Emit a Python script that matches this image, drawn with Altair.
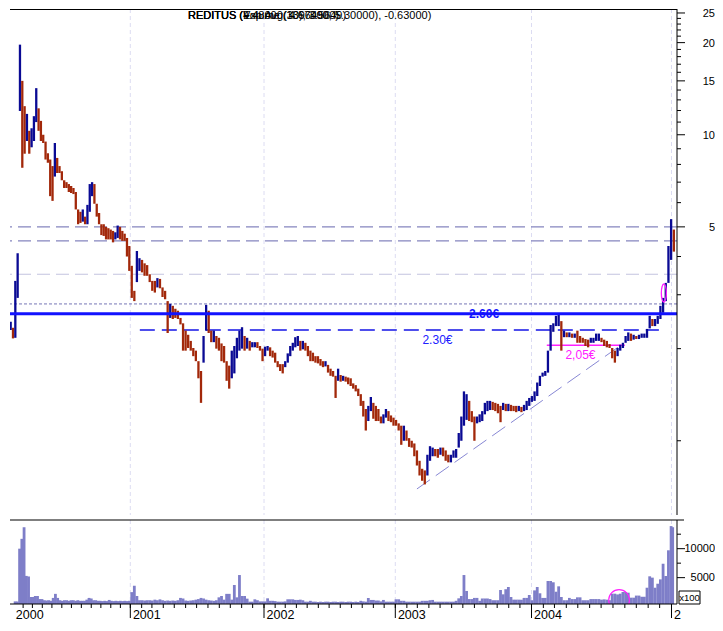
import altair as alt
import pandas as pd

# ---------------- data ----------------
# weekly price range (low / high, EUR) - one value per Friday
low_2000 = [2.30, 2.16, 2.17, 2.93, 11.96, 7.8, 8.67, 9.54, 8.67, 9.1, 9.54, 11.0, 10.3,
            9.54, 9.4, 8.3, 8.1, 6.3, 6.08, 7.3, 7.5, 7.5, 7.1, 6.7, 6.7, 6.5,
            6.45, 6.4, 5.7, 5.1, 5.15, 5.2, 5.1, 5.1, 5.6, 6.3, 5.95, 5.4, 5.1,
            4.7, 4.67, 4.55, 4.55, 4.55, 4.45, 4.55, 4.6, 4.55, 4.5, 4.5, 4.0, 3.59]
high_2000 = [2.45, 2.34, 3.33, 4.10, 19.7, 15.0, 12.4, 11.7, 10.3, 10.5, 11.5, 14.2, 12.2,
             11.1, 10.0, 9.5, 8.7, 8.3, 7.9, 9.4, 8.4, 7.9, 7.6, 7.1, 7.0, 6.9,
             6.8, 6.7, 6.5, 5.7, 5.6, 5.7, 5.4, 5.9, 6.9, 7.0, 6.9, 5.95, 5.55,
             5.1, 5.1, 5.0, 4.95, 4.9, 4.85, 4.8, 5.05, 5.0, 4.85, 4.75, 4.6, 4.33]
low_2001 = [2.93, 2.86, 3.3, 3.59, 3.55, 3.46, 3.46, 3.3, 3.09, 3.05, 3.17, 3.15, 2.95,
            2.9, 2.25, 2.52, 2.5, 2.52, 2.5, 2.4, 1.97, 1.97, 2.01, 1.97, 1.89, 1.82,
            1.6, 1.33, 1.8, 2.29, 2.25, 2.1, 2.1, 2.0, 1.97, 1.82, 1.8, 1.57, 1.48,
            1.6, 1.66, 1.86, 1.97, 2.0, 1.97, 2.0, 1.97, 2.02, 2.02, 2.01, 1.97, 1.82]
high_2001 = [3.73, 3.09, 4.17, 3.95, 3.9, 3.8, 3.75, 3.5, 3.33, 3.33, 3.4, 3.38, 3.17,
             3.09, 2.86, 2.8, 2.76, 2.7, 2.66, 2.52, 2.42, 2.29, 2.22, 2.12, 2.01, 1.97,
             1.82, 1.69, 2.2, 2.78, 2.66, 2.29, 2.29, 2.2, 2.17, 2.08, 2.04, 1.82, 1.76,
             1.97, 2.04, 2.17, 2.29, 2.35, 2.2, 2.17, 2.12, 2.1, 2.1, 2.1, 2.04, 2.0]
low_2002 = [1.89, 1.97, 1.89, 1.87, 1.8, 1.74, 1.69, 1.66, 1.74, 1.8, 1.89, 1.97, 2.02,
            2.04, 1.97, 1.99, 1.97, 1.89, 1.82, 1.82, 1.8, 1.79, 1.76, 1.74, 1.75, 1.67,
            1.63, 1.62, 1.38, 1.57, 1.56, 1.57, 1.56, 1.53, 1.51, 1.48, 1.45, 1.4, 1.3,
            1.2, 1.08, 1.16, 1.25, 1.18, 1.16, 1.16, 1.14, 1.14, 1.19, 1.16, 1.15, 1.12]
high_2002 = [2.03, 2.04, 2.02, 1.97, 1.94, 1.82, 1.78, 1.78, 1.82, 1.93, 2.04, 2.09, 2.18,
             2.2, 2.12, 2.12, 2.09, 2.04, 1.97, 1.94, 1.89, 1.89, 1.85, 1.82, 1.82, 1.77,
             1.72, 1.69, 1.63, 1.72, 1.64, 1.63, 1.62, 1.61, 1.6, 1.54, 1.52, 1.48, 1.42,
             1.35, 1.27, 1.3, 1.39, 1.33, 1.3, 1.27, 1.2, 1.22, 1.27, 1.25, 1.21, 1.19]
low_2003 = [1.12, 1.08, 0.97, 1.0, 1.0, 0.955, 0.95, 0.89, 0.83, 0.77, 0.74, 0.72, 0.77,
            0.86, 0.89, 0.89, 0.88, 0.9, 0.89, 0.86, 0.85, 0.85, 0.88, 0.88, 0.95, 1.0,
            1.12, 1.17, 1.16, 1.15, 1.0, 1.14, 1.15, 1.16, 1.22, 1.25, 1.26, 1.26, 1.25,
            1.23, 1.15, 1.26, 1.25, 1.25, 1.25, 1.25, 1.24, 1.25, 1.24, 1.25, 1.26, 1.3]
high_2003 = [1.17, 1.14, 1.12, 1.12, 1.08, 1.02, 1.0, 0.98, 0.93, 0.86, 0.81, 0.8, 0.9,
             0.96, 0.95, 0.94, 0.94, 0.95, 0.95, 0.93, 0.9, 0.9, 0.93, 0.94, 1.06, 1.2,
             1.45, 1.42, 1.35, 1.25, 1.2, 1.2, 1.22, 1.25, 1.33, 1.35, 1.35, 1.34, 1.33,
             1.32, 1.3, 1.33, 1.32, 1.32, 1.31, 1.3, 1.3, 1.3, 1.29, 1.31, 1.35, 1.38]
low_2004 = [1.34, 1.35, 1.4, 1.51, 1.62, 1.63, 1.67, 1.97, 2.27, 2.37, 2.37, 1.97, 2.18,
            2.18, 2.18, 2.17, 2.17, 2.09, 2.09, 2.09, 2.04, 2.02, 2.09, 2.09, 2.12, 2.12,
            2.1, 2.04, 2.02, 2.01, 1.86, 1.8, 1.89, 1.97, 2.01, 2.09, 2.12, 2.12, 2.14,
            2.15, 2.15, 2.17, 2.17, 2.17, 2.33, 2.37, 2.37, 2.41, 2.5, 2.62, 2.86, 3.28, 3.9]
high_2004 = [1.4, 1.45, 1.55, 1.63, 1.67, 1.69, 1.97, 2.39, 2.42, 2.56, 2.58, 2.46, 2.29,
             2.26, 2.26, 2.24, 2.24, 2.29, 2.2, 2.17, 2.15, 2.14, 2.17, 2.17, 2.24, 2.24,
             2.17, 2.14, 2.12, 2.07, 2.01, 1.97, 2.01, 2.06, 2.09, 2.2, 2.26, 2.24, 2.22,
             2.2, 2.22, 2.24, 2.24, 2.32, 2.56, 2.5, 2.5, 2.56, 2.76, 2.93, 3.28, 4.33, 5.3]
low_2005 = [4.15]
high_2005 = [4.9]

# weekly volume (x100)
vol_2000 = [900, 900, 10000, 11700, 13700, 5300, 5200, 1660, 1660, 1830, 1830, 1300, 1300,
            1100, 1050, 1100, 1000, 1500, 2200, 1500, 1100, 1000, 1100, 1100, 1000, 1100,
            1100, 1000, 1100, 1000, 1000, 1000, 1200, 1500, 1400, 1100, 1100, 1000, 1000,
            950, 1000, 950, 1150, 1000, 950, 1000, 950, 1000, 950, 1000, 950, 1000]
vol_2001 = [2500, 3600, 1830, 1100, 1100, 1050, 1100, 1100, 1050, 1200, 1100, 1250, 1100,
            1000, 1050, 1000, 1050, 1000, 1100, 1500, 1400, 1050, 1000, 1050, 1100, 1200,
            1300, 1500, 1400, 1200, 1100, 1050, 1000, 1100, 1600, 1830, 1200, 2200, 2200,
            1200, 3730, 1600, 5450, 1830, 1830, 1370, 850, 850, 1260, 1100, 900, 900]
vol_2002 = [900, 1430, 1000, 1000, 950, 850, 850, 850, 900, 1260, 1260, 1260, 1150,
            1150, 1200, 1100, 850, 850, 1000, 850, 850, 800, 850, 800, 850, 850,
            800, 850, 850, 800, 850, 850, 800, 850, 850, 800, 850, 800, 1000,
            900, 850, 1486, 1150, 1150, 1050, 1050, 900, 1150, 850, 850, 850, 850]
vol_2003 = [1260, 1260, 1000, 1000, 850, 850, 850, 850, 850, 850, 1000, 1000, 1000,
            1100, 1150, 850, 850, 850, 850, 850, 850, 850, 850, 1000, 1430, 1830,
            5450, 2700, 1300, 1300, 1500, 1500, 1000, 1400, 1400, 1400, 1300, 1100, 1100,
            1100, 2870, 2120, 3000, 3380, 1660, 1200, 1200, 1200, 1200, 1500, 1500, 2000]
vol_2004 = [1100, 2800, 3380, 2300, 1500, 1500, 4420, 4420, 4200, 2570, 3500, 1660, 1100,
            1100, 1500, 1300, 1300, 1600, 1600, 1100, 1100, 1100, 1300, 1300, 1300, 1300,
            1200, 1250, 1200, 1100, 2230, 2230, 2100, 2230, 2520, 2520, 2400, 1540, 1540,
            1900, 1900, 1700, 1700, 3260, 5230, 5000, 3260, 3950, 4700, 7400, 5280, 9720, 13900]
vol_2005 = [13700]

# reference lines and annotations
dashed_levels = [5.0, 4.5]
light_levels = [3.5]
dotted_levels = [2.8]
resistance_level = [2.6]
support_line = {"x1": ["2001-01-27"], "x2": ["2004-11-29"], "v": [2.30]}
magenta_line = {"x1": ["2004-02-10"], "x2": ["2004-09-01"], "v": [2.05]}
trend_line = {"x1": ["2003-02-28"], "x2": ["2004-08-30"], "v1": [0.696], "v2": [2.087]}
label_260 = {"d": ["2003-08-27"], "v": [2.6], "t": ["2.60€"]}
label_230 = {"d": ["2003-04-24"], "v": [2.135], "t": ["2.30€"]}
label_205 = {"d": ["2004-05-08"], "v": [1.907], "t": ["2,05€"]}
ellipse_pt = {"d": ["2004-12-12"], "v": [3.04]}
vol_circle = {"d": ["2004-08-17"], "v": [1140]}
title_texts = ["REDITUS (4.48000, 4.67000, 5.30000), -0.63000)",
               "REDITUS (Exp Avg(30), 3.5649)",
               "REDITUS (Volume (13964900)"]
year_ticks = ["2001-01-01", "2002-01-01", "2003-01-01", "2004-01-01", "2005-01-01"]
year_labels = ["2000", "2001", "2002", "2003", "2004", "2"]
year_label_dates = ["2000-01-01"] + year_ticks
month_ticks = [f"{y}-{m:02d}-01" for y in range(2000, 2005) for m in range(1, 13)][1:] + ["2005-01-01"]
price_ticks = [5, 10, 15, 20, 25]
price_minor = [1, 2, 3, 4, 6, 7, 8, 9, 11, 12, 13, 14, 16, 17, 18, 19, 21, 22, 23, 24]
vol_ticks = [5000, 10000]
vol_minor = [7500, 12500]

# calendar anchors of the time axis (year starts are unevenly spaced in the source chart)
axis_dates = ["2000-01-05", "2001-01-01", "2002-01-01", "2003-01-01", "2004-01-01", "2005-01-01", "2005-01-15"]
axis_px = [0, 120.3, 254, 385.3, 521.5, 661.5, 667]

ORIGIN = pd.Timestamp("2000-01-01")


def day(s):
    return (pd.Timestamp(s) - ORIGIN).days


def dd(lst):
    return [day(s) for s in lst]


# ---------------- build table ----------------
def fridays(year, end=None):
    return list(pd.date_range(f"{year}-01-01", end or f"{year}-12-31", freq="W-FRI"))


blocks = [
    (fridays(2000), low_2000, high_2000, vol_2000),
    (fridays(2001), low_2001, high_2001, vol_2001),
    (fridays(2002), low_2002, high_2002, vol_2002),
    (fridays(2003), low_2003, high_2003, vol_2003),
    (fridays(2004), low_2004, high_2004, vol_2004),
    (fridays(2005, "2005-01-07"), low_2005, high_2005, vol_2005),
]
rows = []
for dates, lo, hi, vo in blocks:
    assert len(dates) == len(lo) == len(hi) == len(vo), (len(dates), len(lo), len(hi), len(vo))
    for d, a, b, v in zip(dates, lo, hi, vo):
        rows.append({"day": (d - ORIGIN).days, "low": a, "high": b, "vol": v})
df = pd.DataFrame(rows)
mid = (df["low"] * df["high"]) ** 0.5
df["dir"] = ["up"] + ["up" if mid[i] >= mid[i - 1] else "down" for i in range(1, len(df))]

BLUE = "#0a0a94"
RED = "#a2280a"
VOL = "#7e7ec8"
MAG = "#ff20ff"
GRID = "#dcdcf2"
FONT = "Liberation Sans"

W = 667
HP = 506
HV = 84

xscale = alt.Scale(domain=[day(s) for s in axis_dates], range=axis_px, nice=False, zero=False)
yscale_p = alt.Scale(type="log", domain=[0.572, 25.76], nice=False)
yscale_v = alt.Scale(domain=[450, 14950], nice=False, zero=False)


def X(field):
    return alt.X(field, scale=xscale, axis=None)


def YP(field):
    return alt.Y(field, scale=yscale_p, axis=None)


def YV(field):
    return alt.Y(field, scale=yscale_v, axis=None)


one = pd.DataFrame({"a": [0]})
grid_df = pd.DataFrame({"d": dd(year_ticks)})

# ---------------- price panel ----------------
grid_p = alt.Chart(grid_df).mark_rule(color=GRID, strokeDash=[4, 3], strokeWidth=1).encode(x=X("d:Q"))
hl_a = alt.Chart(pd.DataFrame({"v": dashed_levels})).mark_rule(
    color="#8585bf", strokeDash=[13, 6], strokeWidth=1.2).encode(y=YP("v:Q"))
hl_b = alt.Chart(pd.DataFrame({"v": light_levels})).mark_rule(
    color="#c4c4df", strokeDash=[13, 6], strokeWidth=1.2).encode(y=YP("v:Q"))
hl_c = alt.Chart(pd.DataFrame({"v": dotted_levels})).mark_rule(
    color="#7676b6", strokeDash=[3, 2], strokeWidth=1).encode(y=YP("v:Q"))
hl_d = alt.Chart(pd.DataFrame({"v": resistance_level})).mark_rule(
    color="#1212ff", strokeWidth=3).encode(y=YP("v:Q"))
seg_230 = alt.Chart(pd.DataFrame({"x1": dd(support_line["x1"]), "x2": dd(support_line["x2"]),
                                  "v": support_line["v"]})).mark_rule(
    color="#1515e6", strokeDash=[15, 7], strokeWidth=1.6).encode(x=X("x1:Q"), x2="x2:Q", y=YP("v:Q"))
seg_205 = alt.Chart(pd.DataFrame({"x1": dd(magenta_line["x1"]), "x2": dd(magenta_line["x2"]),
                                  "v": magenta_line["v"]})).mark_rule(
    color=MAG, strokeWidth=1.5).encode(x=X("x1:Q"), x2="x2:Q", y=YP("v:Q"))
trend = alt.Chart(pd.DataFrame({"x1": dd(trend_line["x1"]), "x2": dd(trend_line["x2"]),
                                "v1": trend_line["v1"], "v2": trend_line["v2"]})).mark_rule(
    color="#8787d4", strokeDash=[16, 7], strokeWidth=1).encode(x=X("x1:Q"), x2="x2:Q", y=YP("v1:Q"), y2="v2:Q")

bars = alt.Chart(df).mark_rule(strokeWidth=2.3, clip=True).encode(
    x=X("day:Q"),
    y=YP("low:Q"),
    y2="high:Q",
    color=alt.Color("dir:N", scale=alt.Scale(domain=["up", "down"], range=[BLUE, RED]), legend=None),
)


def label_layer(spec, color, weight="normal"):
    return alt.Chart(pd.DataFrame({"d": dd(spec["d"]), "v": spec["v"], "t": spec["t"]})).mark_text(
        font=FONT, fontSize=12, fontWeight=weight, color=color, align="center", baseline="middle").encode(
        x=X("d:Q"), y=YP("v:Q"), text="t:N")


t260 = label_layer(label_260, "#1212ff", "bold")
t230 = label_layer(label_230, "#2020ff")
t205 = label_layer(label_205, MAG)

a = 0.28
k = 0.5523
ell_path = (f"M0,-1 C{a*k:.4f},-1 {a},-{k} {a},0 C{a},{k} {a*k:.4f},1 0,1 "
            f"C-{a*k:.4f},1 -{a},{k} -{a},0 C-{a},-{k} -{a*k:.4f},-1 0,-1 Z")
ellipse = alt.Chart(pd.DataFrame({"d": dd(ellipse_pt["d"]), "v": ellipse_pt["v"]})).mark_point(
    shape=ell_path, filled=False, size=324, color=MAG, strokeWidth=1.3, opacity=1).encode(
    x=X("d:Q"), y=YP("v:Q"))

title = alt.Chart(pd.DataFrame({"t": title_texts})).mark_text(
    font=FONT, fontSize=11, color="black", align="left", baseline="alphabetic").encode(
    x=alt.value(178), y=alt.value(9.5), text="t:N")

# right-hand price axis (drawn with marks)
p_dom = alt.Chart(one).mark_rule(color="black", strokeWidth=1).encode(
    x=alt.value(W), y=alt.value(0), y2=alt.value(HP))
p_major = alt.Chart(pd.DataFrame({"v": price_ticks})).mark_rule(color="black", strokeWidth=1).encode(
    y=YP("v:Q"), x=alt.value(W), x2=alt.value(W + 8))
p_minor = alt.Chart(pd.DataFrame({"v": price_minor})).mark_rule(color="black", strokeWidth=1).encode(
    y=YP("v:Q"), x=alt.value(W), x2=alt.value(W + 4))
p_labels = alt.Chart(pd.DataFrame({"v": price_ticks, "t": [str(v) for v in price_ticks]})).mark_text(
    font=FONT, fontSize=11, color="black", align="right", baseline="middle", dy=1.5).encode(
    y=YP("v:Q"), x=alt.value(W + 38), text="t:N")
top_p = alt.Chart(one).mark_rule(color="black", strokeWidth=1).encode(
    x=alt.value(0), x2=alt.value(W), y=alt.value(0.5))

price = alt.layer(grid_p, hl_a, hl_b, hl_c, seg_230, trend, seg_205, bars, hl_d,
                  t260, t230, t205, ellipse, title, p_dom, p_major, p_minor, p_labels, top_p
                  ).properties(width=W, height=HP)

# ---------------- volume panel ----------------
grid_v = alt.Chart(grid_df).mark_rule(color=GRID, strokeDash=[4, 3], strokeWidth=1).encode(x=X("d:Q"))
vbars = alt.Chart(df).mark_bar(width=2.8, color=VOL, clip=True).encode(
    x=X("day:Q"),
    y=YV("vol:Q"),
    y2=alt.value(HV),
)
vcirc = alt.Chart(pd.DataFrame({"d": dd(vol_circle["d"]), "v": vol_circle["v"]})).mark_point(
    shape="circle", size=430, filled=False, color=MAG, strokeWidth=1.2, clip=True, opacity=1).encode(
    x=X("d:Q"), y=YV("v:Q"))
top_v = alt.Chart(one).mark_rule(color="black", strokeWidth=1.2).encode(
    x=alt.value(0), x2=alt.value(W + 7), y=alt.value(0))
v_dom = alt.Chart(one).mark_rule(color="black", strokeWidth=1).encode(
    x=alt.value(W), y=alt.value(0), y2=alt.value(HV))
x_dom = alt.Chart(one).mark_rule(color="black", strokeWidth=1).encode(
    x=alt.value(0), x2=alt.value(W), y=alt.value(HV))
m_ticks = alt.Chart(pd.DataFrame({"d": dd(month_ticks)})).mark_rule(color="black", strokeWidth=1).encode(
    x=X("d:Q"), y=alt.value(HV), y2=alt.value(HV + 4))
y_ticks = alt.Chart(grid_df).mark_rule(color="black", strokeWidth=1).encode(
    x=X("d:Q"), y=alt.value(HV), y2=alt.value(HV + 14))
y_labs = alt.Chart(pd.DataFrame({"d": dd(year_label_dates), "t": year_labels})).mark_text(
    font=FONT, fontSize=12.5, color="black", align="left", baseline="alphabetic", dx=2.6).encode(
    x=X("d:Q"), y=alt.value(HV + 15), text="t:N")
v_major = alt.Chart(pd.DataFrame({"v": vol_ticks})).mark_rule(color="black", strokeWidth=1).encode(
    y=YV("v:Q"), x=alt.value(W), x2=alt.value(W + 8))
v_minor = alt.Chart(pd.DataFrame({"v": vol_minor})).mark_rule(color="black", strokeWidth=1).encode(
    y=YV("v:Q"), x=alt.value(W), x2=alt.value(W + 4))
v_labels = alt.Chart(pd.DataFrame({"v": vol_ticks, "t": [str(v) for v in vol_ticks]})).mark_text(
    font=FONT, fontSize=11, color="black", align="right", baseline="middle").encode(
    y=YV("v:Q"), x=alt.value(W + 38), text="t:N")
box = alt.Chart(one).mark_rect(fill="white", stroke="black", strokeWidth=1).encode(
    x=alt.value(W + 2), x2=alt.value(W + 23), y=alt.value(HV - 13), y2=alt.value(HV))
box_t = alt.Chart(one).mark_text(
    font=FONT, fontSize=9.5, color="black", align="center", baseline="middle").encode(
    x=alt.value(W + 12.5), y=alt.value(HV - 6.5), text=alt.value("x100"))

volume = alt.layer(grid_v, vbars, vcirc, top_v, v_dom, x_dom, m_ticks, y_ticks, y_labs,
                   v_major, v_minor, v_labels, box, box_t).properties(width=W, height=HV)

chart = alt.vconcat(price, volume, spacing=3).properties(
    padding={"left": 0, "right": 0, "top": 0, "bottom": 0},
    background="white",
).configure_view(strokeWidth=0)

chart.save("out.html", embed_options={"renderer": "svg", "actions": False})
